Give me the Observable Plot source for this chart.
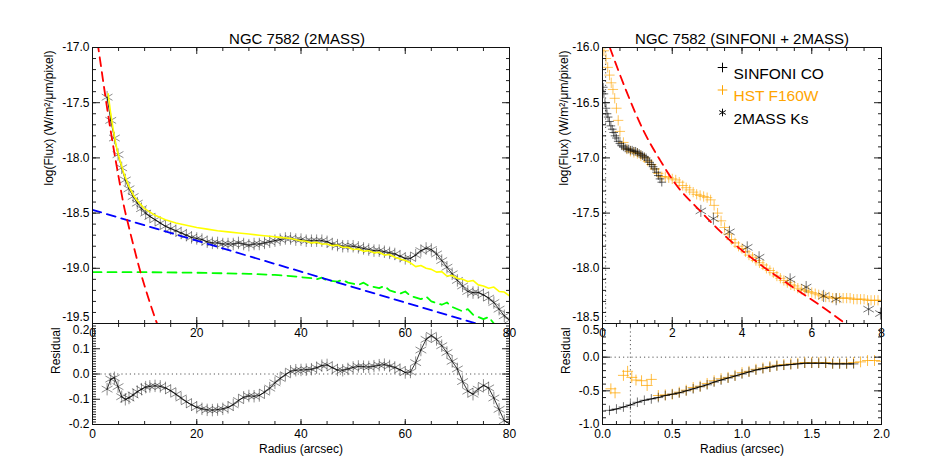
<!DOCTYPE html>
<html><head><meta charset="utf-8">
<script src="https://cdn.jsdelivr.net/npm/d3@7"></script>
<script src="https://cdn.jsdelivr.net/npm/@observablehq/plot@0.6"></script>
<style>
html,body{margin:0;padding:0;background:#fff;}
#wrap{position:relative;width:926px;height:463px;overflow:hidden;}
#wrap svg{position:absolute;left:0;top:0;}
</style></head><body><div id="wrap"></div>
<script>
// ---------- Left panel: NGC 7582 (2MASS) ----------
const leftR = [2.8,3.5,4.2,4.9,5.6,6.3,7.0,7.8,8.6,9.4,10.2,11,12,13,14,15,16,17,18,19,20,21,22,23,24,25,26,27,28,29,30,31,32,33,34,35,36,37,38,39,40,41,42,43,44,45,46,47,48,49,50,51,52,53,54,55,56,57,58,59,60,61,62,63,64,65,66,67,68,69,70,71,72,73,74,75,76,77,78,79,80];
const leftFlux = [-17.45,-17.66,-17.82,-17.97,-18.09,-18.2,-18.28,-18.35,-18.41,-18.46,-18.5,-18.53,-18.56,-18.59,-18.62,-18.64,-18.66,-18.68,-18.70,-18.72,-18.73,-18.74,-18.76,-18.77,-18.77,-18.78,-18.78,-18.78,-18.77,-18.78,-18.79,-18.78,-18.78,-18.77,-18.76,-18.75,-18.74,-18.73,-18.73,-18.74,-18.74,-18.75,-18.75,-18.75,-18.75,-18.76,-18.78,-18.79,-18.8,-18.8,-18.8,-18.81,-18.82,-18.83,-18.84,-18.84,-18.85,-18.86,-18.87,-18.89,-18.91,-18.91,-18.88,-18.84,-18.82,-18.83,-18.87,-18.93,-18.99,-19.05,-19.11,-19.16,-19.21,-19.22,-19.22,-19.24,-19.27,-19.31,-19.37,-19.43,-19.47];
const leftResid = [-0.06,-0.02,-0.015,-0.05,-0.09,-0.1,-0.095,-0.083,-0.07,-0.06,-0.052,-0.049,-0.047,-0.049,-0.055,-0.066,-0.08,-0.095,-0.11,-0.122,-0.132,-0.138,-0.142,-0.143,-0.141,-0.138,-0.132,-0.122,-0.105,-0.092,-0.087,-0.088,-0.085,-0.072,-0.056,-0.035,-0.018,-0.003,0.011,0.015,0.016,0.017,0.019,0.025,0.033,0.036,0.025,0.016,0.015,0.02,0.026,0.03,0.029,0.028,0.031,0.035,0.037,0.032,0.026,0.017,0.006,0.008,0.045,0.095,0.137,0.153,0.137,0.112,0.085,0.05,0.02,-0.03,-0.068,-0.08,-0.06,-0.045,-0.055,-0.095,-0.14,-0.185,-0.197];

const totalR = [3.0,3.5,4.0,4.5,5,6,7,8,9,10,12,14,16,18,20,22,24,26,28,30,32,34,36,38,40,41,42,43,44,45,46,47,48,49,50,51,52,53,54,55,56,57,58,59,60,61,62,63,64,65,66,67,68,69,70,71,72,73,74,75,76,77,78,79,80];
const totalF = [-17.42,-17.6,-17.75,-17.88,-17.98,-18.14,-18.26,-18.35,-18.41,-18.46,-18.52,-18.56,-18.59,-18.61,-18.63,-18.645,-18.66,-18.67,-18.68,-18.69,-18.7,-18.71,-18.72,-18.73,-18.75,-18.755,-18.77,-18.765,-18.78,-18.78,-18.795,-18.79,-18.81,-18.81,-18.83,-18.825,-18.845,-18.84,-18.86,-18.855,-18.88,-18.875,-18.9,-18.915,-18.93,-18.95,-18.985,-18.975,-19.0,-19.01,-19.035,-19.03,-19.07,-19.065,-19.09,-19.1,-19.12,-19.11,-19.15,-19.16,-19.18,-19.17,-19.21,-19.215,-19.25];

const bulgeR = [0.5,0.8,1.2,2,3,4,5,6,7,8,9,10,11,12,13];
const bulgeF = [-16.82,-16.9,-17.03,-17.29,-17.61,-17.9,-18.17,-18.43,-18.63,-18.82,-19.0,-19.16,-19.31,-19.45,-19.58];

const diskR = [0,20,40,60,80];
const diskF = [-18.47,-18.75,-19.03,-19.31,-19.59];

const barR = [0,10,20,30,35,38,40,42,43,44,45,47,48,49,51,52,53,55,56,57,59,60,61,63,64,65,67,68,69,71,72,73,75,76,77,79];
const barF = [-19.035,-19.035,-19.04,-19.05,-19.06,-19.07,-19.08,-19.09,-19.1,-19.085,-19.11,-19.12,-19.105,-19.13,-19.15,-19.13,-19.16,-19.18,-19.16,-19.2,-19.23,-19.21,-19.25,-19.28,-19.255,-19.3,-19.33,-19.31,-19.35,-19.39,-19.37,-19.42,-19.46,-19.44,-19.5,-19.54];

// ---------- Right panel: NGC 7582 (SINFONI + 2MASS) ----------
const sinfR = [0.02,0.04,0.07,0.1,0.13,0.16,0.2,0.24,0.28,0.32,0.36,0.4,0.45,0.5,0.55,0.6,0.65,0.7,0.75,0.8,0.85,0.9,0.95,1.0,1.05,1.1,1.15,1.2,1.25,1.3,1.35,1.4,1.45,1.5,1.55,1.6,1.65,1.7];
const sinfF = [-16.36,-16.42,-16.5,-16.55,-16.6,-16.63,-16.67,-16.71,-16.74,-16.77,-16.8,-16.82,-16.85,-16.87,-16.89,-16.9,-16.91,-16.92,-16.92,-16.93,-16.93,-16.94,-16.94,-16.95,-16.96,-16.97,-16.98,-16.99,-17.0,-17.02,-17.04,-17.06,-17.08,-17.1,-17.13,-17.16,-17.19,-17.22];

const hstR = [0.04,0.1,0.15,0.2,0.25,0.3,0.35,0.4,0.45,0.5,0.6,0.7,0.8,0.9,1.0,1.1,1.2,1.3,1.4,1.5,1.6,1.7,1.8,1.9,2.0,2.1,2.2,2.3,2.4,2.5,2.6,2.7,2.8,2.9,3.0,3.1,3.2,3.3,3.4,3.5,3.6,3.7,3.8,3.9,4.0,4.1,4.2,4.3,4.4,4.5,4.6,4.7,4.8,4.9,5.0,5.1,5.2,5.3,5.4,5.5,5.6,5.7,5.8,5.9,6.0,6.1,6.2,6.3,6.4,6.5,6.6,6.7,6.8,6.9,7.0,7.1,7.2,7.3,7.4,7.5,7.6,7.7,7.8,7.9,8.0];
const hstF = [-16.03,-16.1,-16.18,-16.25,-16.32,-16.38,-16.46,-16.55,-16.66,-16.76,-16.86,-16.92,-16.94,-16.95,-16.96,-16.98,-17.0,-17.03,-17.06,-17.1,-17.14,-17.17,-17.17,-17.18,-17.19,-17.2,-17.22,-17.25,-17.27,-17.29,-17.31,-17.33,-17.34,-17.35,-17.36,-17.38,-17.43,-17.5,-17.57,-17.63,-17.69,-17.74,-17.77,-17.8,-17.82,-17.85,-17.88,-17.9,-17.93,-17.95,-17.97,-18.0,-18.02,-18.04,-18.07,-18.09,-18.11,-18.13,-18.15,-18.16,-18.18,-18.19,-18.2,-18.21,-18.22,-18.23,-18.24,-18.25,-18.26,-18.26,-18.27,-18.27,-18.27,-18.27,-18.27,-18.27,-18.28,-18.28,-18.28,-18.28,-18.29,-18.29,-18.29,-18.29,-18.29];

const kR = [2.82,3.18,3.64,4.15,4.49,5.38,5.84,6.34,6.7,7.63,7.97];
const kF = [-17.48,-17.55,-17.67,-17.81,-17.9,-18.1,-18.17,-18.25,-18.28,-18.37,-18.41];

const modelR = [0.21,0.69,1.17,1.65,2.08,2.8,3.56,4.5,5.5,6.44,7.0];
const modelF = [-16.0,-16.4,-16.75,-17.02,-17.23,-17.48,-17.72,-17.96,-18.18,-18.38,-18.51];

const sinfResR = [0.05,0.1,0.15,0.2,0.25,0.3,0.35,0.4,0.45,0.5,0.55,0.6,0.65,0.7,0.75,0.8,0.85,0.9,0.95,1.0,1.05,1.1,1.15,1.2,1.25,1.3,1.35,1.4,1.45,1.5,1.55,1.6,1.65,1.7,1.75,1.8];
const sinfRes = [-0.79,-0.77,-0.74,-0.71,-0.67,-0.64,-0.62,-0.6,-0.57,-0.55,-0.53,-0.5,-0.47,-0.44,-0.41,-0.37,-0.34,-0.31,-0.28,-0.25,-0.22,-0.19,-0.17,-0.15,-0.13,-0.12,-0.11,-0.1,-0.09,-0.09,-0.09,-0.09,-0.1,-0.1,-0.1,-0.1];

const hstResR = [0.06,0.09,0.15,0.18,0.21,0.24,0.28,0.32,0.35,0.4,0.45,0.5,0.55,0.6,0.65,0.7,0.75,0.8,0.85,0.9,0.95,1.0,1.05,1.1,1.15,1.2,1.25,1.3,1.35,1.4,1.45,1.5,1.55,1.6,1.65,1.7,1.75,1.8,1.85,1.9,1.95,2.0];
const hstRes = [-0.47,-0.53,-0.27,-0.21,-0.3,-0.34,-0.35,-0.42,-0.33,-0.57,-0.56,-0.55,-0.52,-0.49,-0.45,-0.43,-0.39,-0.35,-0.32,-0.3,-0.27,-0.23,-0.21,-0.18,-0.16,-0.14,-0.12,-0.11,-0.1,-0.09,-0.08,-0.08,-0.08,-0.08,-0.09,-0.09,-0.09,-0.08,-0.07,-0.05,-0.05,-0.06];

// tick labels
const leftXTicks = [0,20,40,60,80];
const leftYTicks = [-17.0,-17.5,-18.0,-18.5,-19.0,-19.5];
const leftResTicks = [0.2,0.1,0.0,-0.1,-0.2];
const rightXTicks = [0,2,4,6,8];
const rightYTicks = [-16.0,-16.5,-17.0,-17.5,-18.0,-18.5];
const rightResXTicks = [0.0,0.5,1.0,1.5,2.0];
const rightResYTicks = [0.5,0.0,-0.5,-1.0];
const titles = ["NGC 7582 (2MASS)", "NGC 7582 (SINFONI + 2MASS)"];
const yLabel = "log(Flux) (W/m²/μm/pixel)";
const resLabel = "Residual";
const xLabel = "Radius (arcsec)";
const legendNames = ["SINFONI CO", "HST F160W", "2MASS Ks"];

// ---------- helpers ----------
const zip = (xs, ys) => xs.map((x, i) => ({x, y: ys[i]}));
const W = 926, H = 463;
const FONT = "Liberation Sans, Arial, Helvetica, sans-serif";
const none = () => "";
const f0 = d => d.toFixed(0);
const f1 = d => d.toFixed(1);

// edge/edgeDy nudge the one label on the shared edge of stacked panels
function box({xMaj, xMin, yMaj, yMin, xFmt, yFmt, xTL, xTS, yTL, yTS, xPad, edge, edgeDy}) {
  const m = [];
  for (const a of ["top", "bottom"]) {
    m.push(Plot.axisX(xMaj, {anchor: a, tickSize: -xTL, tickFormat: none, label: null, stroke: "#222"}));
    m.push(Plot.axisX(xMin, {anchor: a, tickSize: -xTS, tickFormat: none, label: null, stroke: "#222"}));
  }
  for (const a of ["left", "right"]) {
    m.push(Plot.axisY(yMaj, {anchor: a, tickSize: -yTL, tickFormat: none, label: null, stroke: "#222"}));
    m.push(Plot.axisY(yMin, {anchor: a, tickSize: -yTS, tickFormat: none, label: null, stroke: "#222"}));
  }
  m.push(Plot.axisX(xMaj, {anchor: "bottom", tickSize: 0, tickPadding: xPad, tickFormat: xFmt, label: null, fontSize: 12}));
  m.push(Plot.axisY(yMaj.filter(v => v !== edge), {anchor: "left", tickSize: 0, tickPadding: 3, tickFormat: yFmt, label: null, fontSize: 12}));
  m.push(Plot.text([edge], {y: d => d, text: yFmt, frameAnchor: "left", textAnchor: "end", dx: -3, dy: edgeDy, fontSize: 12}));
  m.push(Plot.frame({stroke: "#111", strokeWidth: 1}));
  return m;
}

function panel(frame, xd, yd, marks) {
  const [x0, x1, y0, y1] = frame;
  return Plot.plot({
    width: W, height: H,
    marginLeft: x0, marginRight: W - x1, marginTop: y0, marginBottom: H - y1,
    x: {domain: xd}, y: {domain: yd},
    style: {background: "transparent", overflow: "visible", fontFamily: FONT, fontSize: "12px", color: "black"},
    marks
  });
}

const wrap = document.getElementById("wrap");
const dotted = {stroke: "#444", strokeDasharray: "1.2,3", strokeWidth: 0.9};

// Left top
const lData = zip(leftR, leftFlux);
wrap.append(panel([92, 509, 47, 323], [0, 80], [-19.5, -17.0], [
  Plot.line(lData, {x: "x", y: "y", stroke: "black", strokeWidth: 0.8, clip: true}),
  Plot.dot(lData, {x: "x", y: "y", symbol: "asterisk", r: 5.9, stroke: "black", strokeOpacity: 0.5, strokeWidth: 0.9, clip: true}),
  Plot.line(zip(totalR, totalF), {x: "x", y: "y", stroke: "#ffff00", strokeWidth: 1.6, clip: true}),
  Plot.line(zip(barR, barF), {x: "x", y: "y", stroke: "#00ff00", strokeWidth: 1.8, strokeDasharray: "9,6", clip: true}),
  Plot.line(zip(diskR, diskF), {x: "x", y: "y", stroke: "#0000ff", strokeWidth: 1.8, strokeDasharray: "9,6", clip: true}),
  Plot.line(zip(bulgeR, bulgeF), {x: "x", y: "y", stroke: "#ff0000", strokeWidth: 1.8, strokeDasharray: "9,6", curve: "monotone-x", clip: true}),
  ...box({xMaj: leftXTicks, xMin: d3.range(0, 81, 5), yMaj: leftYTicks, yMin: d3.range(-195, -169, 1).map(v => v / 10),
          xFmt: f0, yFmt: f1, xTL: 6, xTS: 3, yTL: 8, yTS: 4, xPad: 5, edge: -19.5, edgeDy: -6}),
  Plot.text([titles[0]], {text: d => d, frameAnchor: "top", dy: -14, dx: -4, fontSize: 15}),
  Plot.text([yLabel], {text: d => d, frameAnchor: "left", dx: -43, rotate: -90, fontSize: 12})
]));

// Left residual
const lRes = zip(leftR, leftResid);
wrap.append(panel([92, 509, 323, 424], [0, 80], [-0.2, 0.2], [
  Plot.ruleY([0], dotted),
  Plot.line(lRes, {x: "x", y: "y", stroke: "black", strokeWidth: 0.8, clip: true}),
  Plot.dot(lRes, {x: "x", y: "y", symbol: "asterisk", r: 5.9, stroke: "black", strokeOpacity: 0.5, strokeWidth: 0.9, clip: true}),
  ...box({xMaj: leftXTicks, xMin: d3.range(0, 81, 5), yMaj: leftResTicks, yMin: d3.range(-20, 21, 1).map(v => v / 100),
          xFmt: f0, yFmt: f1, xTL: 5, xTS: 3, yTL: 8, yTS: 4, xPad: 5, edge: 0.2, edgeDy: 7}),
  Plot.text([resLabel], {text: d => d, frameAnchor: "left", dx: -36, rotate: -90, fontSize: 12}),
  Plot.text([xLabel], {text: d => d, frameAnchor: "bottom", dy: 28, fontSize: 12})
]));

// Right top
wrap.append(panel([602, 881, 47, 323], [0, 8], [-18.5, -16.0], [
  Plot.ruleX([0.09], dotted),
  Plot.dot(zip(hstR, hstF), {x: "x", y: "y", symbol: "plus", r: 3.4, stroke: "orange", strokeOpacity: 0.65, strokeWidth: 1, clip: true}),
  Plot.dot(zip(sinfR, sinfF), {x: "x", y: "y", symbol: "plus", r: 2.9, stroke: "black", strokeOpacity: 0.6, strokeWidth: 1, clip: true}),
  Plot.dot(zip(kR, kF), {x: "x", y: "y", symbol: "asterisk", r: 5.7, stroke: "black", strokeOpacity: 0.6, strokeWidth: 0.9, clip: true}),
  Plot.line(zip(modelR, modelF), {x: "x", y: "y", stroke: "#ff0000", strokeWidth: 1.8, strokeDasharray: "9,6", curve: "monotone-x", clip: true}),
  ...box({xMaj: rightXTicks, xMin: d3.range(0, 8.01, 0.5), yMaj: rightYTicks, yMin: d3.range(-185, -159, 1).map(v => v / 10),
          xFmt: f0, yFmt: f1, xTL: 6, xTS: 3, yTL: 8, yTS: 4, xPad: 5, edge: -18.5, edgeDy: -6}),
  Plot.text([titles[1]], {text: d => d, frameAnchor: "top", dy: -14, fontSize: 15}),
  Plot.text([yLabel], {text: d => d, frameAnchor: "left", dx: -38, rotate: -90, fontSize: 12})
]));

// Right residual
wrap.append(panel([602, 881, 323, 424], [0, 2], [-1.0, 0.5], [
  Plot.ruleY([0], dotted),
  Plot.ruleX([0.2], dotted),
  Plot.dot(zip(hstResR, hstRes), {x: "x", y: "y", symbol: "plus", r: 3.6, stroke: "orange", strokeOpacity: 0.75, strokeWidth: 1, clip: true}),
  Plot.line(zip(sinfResR, sinfRes), {x: "x", y: "y", stroke: "black", strokeWidth: 1, clip: true}),
  Plot.dot(zip(sinfResR, sinfRes), {x: "x", y: "y", symbol: "plus", r: 3.2, stroke: "black", strokeOpacity: 0.55, strokeWidth: 1, clip: true}),
  ...box({xMaj: rightResXTicks, xMin: d3.range(0, 2.01, 0.1), yMaj: rightResYTicks, yMin: d3.range(-10, 6, 1).map(v => v / 10),
          xFmt: f1, yFmt: f1, xTL: 5, xTS: 3, yTL: 8, yTS: 4, xPad: 5, edge: 0.5, edgeDy: 7}),
  Plot.text([resLabel], {text: d => d, frameAnchor: "left", dx: -36, rotate: -90, fontSize: 12}),
  Plot.text([xLabel], {text: d => d, frameAnchor: "bottom", dy: 28, fontSize: 12})
]));

// Legend overlay for the right top panel
const legendColors = ["black", "orange", "black"];
const legendSymbols = ["plus", "plus", "asterisk"];
const legendRows = legendNames.map((n, i) => ({n, c: legendColors[i], s: legendSymbols[i], i}));
wrap.append(Plot.plot({
  width: W, height: H, margin: 0,
  x: {domain: [0, W]}, y: {domain: [0, H]}, axis: null,
  style: {background: "transparent", overflow: "visible", fontFamily: FONT},
  marks: legendRows.map(d => [
    Plot.dot([d], {frameAnchor: "top-left", dx: 722, dy: 67 + d.i * 22.5, symbol: d.s, r: d.s === "plus" ? 3.2 : 3.6, stroke: d.c, strokeWidth: 1}),
    Plot.text([d], {frameAnchor: "top-left", dx: 733, dy: 67 + d.i * 22.5, text: "n", fill: d.c, fontSize: 15.5, textAnchor: "start"})
  ]).flat()
}));
</script></body></html>
